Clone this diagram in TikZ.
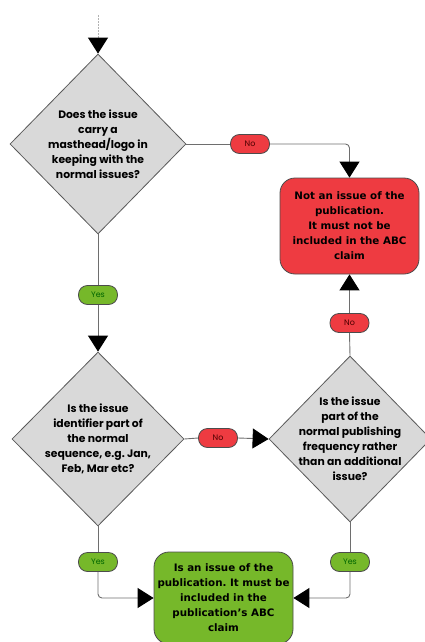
\documentclass[tikz,border=0pt]{standalone}
\usepackage{fontspec}
\setmainfont{Liberation Sans}
\newfontfamily\popfont{Poppins}
\newfontfamily\heavyfont{DejaVu Sans}
\usetikzlibrary{shapes.geometric,arrows.meta}
\definecolor{dgray}{HTML}{D9D9D9}
\definecolor{rfill}{HTML}{EE3B41}
\definecolor{gfill}{HTML}{76B82A}
\definecolor{lcol}{HTML}{6E6E6E}
\frenchspacing
\tikzset{
  decision/.style={diamond, draw=black!65, fill=dgray, line width=0.8pt, inner sep=0pt},
  dtext/.style={align=center, inner sep=0pt, font=\popfont\bfseries\fontsize{10.8}{15}\selectfont},
  redbox/.style={rectangle, rounded corners=15pt, draw=black!70, fill=rfill, line width=0.8pt, minimum width=139pt, minimum height=96pt, inner sep=0pt, align=center, font=\heavyfont\bfseries\fontsize{10.3}{15}\selectfont},
  greenbox/.style={rectangle, rounded corners=15pt, draw=black!70, fill=gfill, line width=0.8pt, minimum width=139pt, minimum height=92pt, inner sep=0pt, align=center, font=\heavyfont\bfseries\fontsize{10.3}{15}\selectfont},
  nolab/.style={rectangle, rounded corners=9pt, draw=black!70, fill=rfill, line width=0.8pt, minimum width=39pt, minimum height=19pt, inner sep=0pt, text=black!70!red, font=\popfont\fontsize{8}{8}\selectfont},
  yeslab/.style={rectangle, rounded corners=9pt, draw=black!70, fill=gfill, line width=0.8pt, minimum width=39pt, minimum height=19pt, inner sep=0pt, text=black!60!green, font=\popfont\fontsize{8}{8}\selectfont},
  conn/.style={draw=lcol, line width=0.9pt, rounded corners=4pt},
  arr/.style={-{Triangle[width=20pt,length=16pt,color=black]}},
}
\begin{document}
\begin{tikzpicture}[x=1pt,y=-1pt]
\useasboundingbox (0,0) rectangle (425,642);
\coordinate (start) at (98,15);
\node[decision, minimum width=176pt, minimum height=180pt] (d1) at (98,144) {};
\node[dtext] (d1t) at (d1.center) {Does the issue\\carry a\\masthead/logo in\\keeping with the\\normal issues?};
\node[decision, minimum width=172pt, minimum height=174pt] (d2) at (98,439) {};
\node[dtext] (d2t) at (d2.center) {Is the issue\\identifier part of\\the normal\\sequence, e.g. Jan,\\Feb, Mar etc?};
\node[decision, minimum width=162pt, minimum height=166pt] (d3) at (350,439) {};
\node[dtext] (d3t) at (d3.center) {Is the issue\\part of the\\normal publishing\\frequency rather\\than an additional\\issue?};
\node[redbox] (red) at (349.5,226) {Not an issue of the\\publication.\\It must not be\\included in the ABC\\claim};
\node[greenbox] (green) at (223.5,598) {Is an issue of the\\publication. It must be\\included in the\\publication’s ABC\\claim};
\node[nolab] (no1) at (250,144) {No};
\node[yeslab] (yes1) at (98,295) {Yes};
\node[nolab] (no2) at (349.5,323) {No};
\node[nolab] (no3) at (218,438) {No};
\node[yeslab] (yes2) at (98,562) {Yes};
\node[yeslab] (yes3) at (350,562) {Yes};
\draw[draw=black!30, line width=0.9pt, dash pattern=on 2pt off 1pt, arr] (start) -- (d1.north);
\draw[conn] (d1.east) -- (no1.west);
\draw[conn, arr] (no1.east) -| (red.north);
\draw[conn] (d1.south) -- (yes1.north);
\draw[conn, arr] (yes1.south) -- (d2.north);
\draw[conn] (d3.north) -- (no2.south);
\draw[conn, arr] (no2.north) -- (red.south);
\draw[conn] (d2.east) -- (no3.west);
\draw[conn, arr] (no3.east) -- (d3.west);
\draw[conn] (d2.south) -- (yes2.north);
\draw[conn, arr] (yes2.south) |- (green.west);
\draw[conn] (d3.south) -- (yes3.north);
\draw[conn, arr] (yes3.south) |- (green.east);
\end{tikzpicture}
\end{document}
